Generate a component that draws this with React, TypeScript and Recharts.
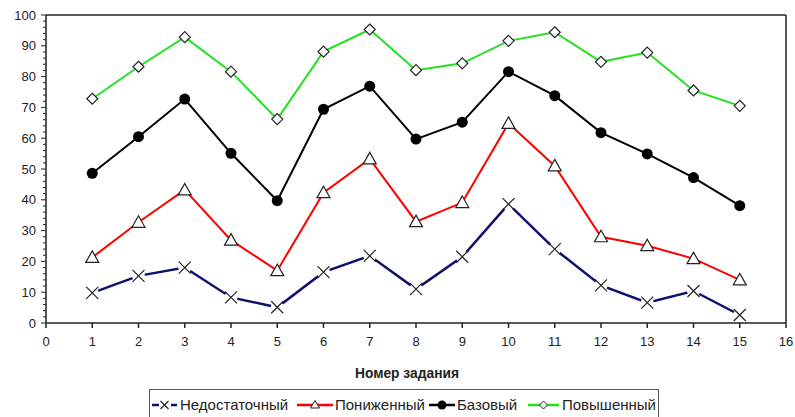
import { LineChart, Line, XAxis, YAxis, ReferenceLine } from "recharts";

// task numbers 1..15
const tasks = [1, 2, 3, 4, 5, 6, 7, 8, 9, 10, 11, 12, 13, 14, 15];

const insufficient = [9.8, 15.3, 18, 8.3, 5.1, 16.5, 21.8, 11, 21.5, 38.6, 24, 12.2, 6.6, 10.4, 2.6];
const lowered = [21.3, 32.7, 43.2, 26.9, 17, 42.3, 53.3, 32.9, 39.1, 64.8, 51, 28, 25.1, 20.9, 14];
const basic = [48.6, 60.5, 72.7, 55.1, 39.7, 69.4, 76.9, 59.7, 65.2, 81.6, 73.8, 61.8, 54.9, 47.2, 38.1];
const advanced = [72.8, 83.2, 92.8, 81.6, 66.2, 88.1, 95.3, 82.1, 84.3, 91.6, 94.4, 84.8, 87.8, 75.5, 70.5];

const xTicks = [0, 1, 2, 3, 4, 5, 6, 7, 8, 9, 10, 11, 12, 13, 14, 15, 16];
const yMajor = [0, 10, 20, 30, 40, 50, 60, 70, 80, 90, 100];
const yTicks = [
  0, 2, 4, 6, 8, 10, 12, 14, 16, 18, 20, 22, 24, 26, 28, 30, 32, 34, 36, 38, 40, 42, 44, 46, 48, 50,
  52, 54, 56, 58, 60, 62, 64, 66, 68, 70, 72, 74, 76, 78, 80, 82, 84, 86, 88, 90, 92, 94, 96, 98, 100,
];

const seriesNames = ["Недостаточный", "Пониженный", "Базовый", "Повышенный"];
const axisTitle = "Номер задания";

const data = tasks.map((t, i) => ({
  task: t,
  insufficient: insufficient[i],
  lowered: lowered[i],
  basic: basic[i],
  advanced: advanced[i],
}));

const FONT = "'Liberation Sans', Arial, sans-serif";

const CrossDot = (p: any) => (
  <g>
    <circle cx={p.cx} cy={p.cy} r={6.5} fill="#fff" />
    <path d={`M${p.cx - 6},${p.cy - 6}L${p.cx + 6},${p.cy + 6}M${p.cx + 6},${p.cy - 6}L${p.cx - 6},${p.cy + 6}`} stroke="#222" strokeWidth={1.2} />
  </g>
);
const TriDot = (p: any) => (
  <path d={`M${p.cx},${p.cy - 6.5}L${p.cx + 6.5},${p.cy + 5}L${p.cx - 6.5},${p.cy + 5}Z`} fill="#fff" stroke="#222" strokeWidth={1.2} />
);
const CircleDot = (p: any) => <circle cx={p.cx} cy={p.cy} r={5.5} fill="#000" />;
const DiamondDot = (p: any) => (
  <path d={`M${p.cx},${p.cy - 5.5}L${p.cx + 5.5},${p.cy}L${p.cx},${p.cy + 5.5}L${p.cx - 5.5},${p.cy}Z`} fill="#fff" stroke="#222" strokeWidth={1.2} />
);

const YTick = ({ x, y, payload }: any) => {
  const major = yMajor.includes(payload.value);
  return (
    <g>
      <line x1={major ? x - 5 : x - 3} x2={x} y1={y} y2={y} stroke="#222" strokeWidth={1} />
      {major && (
        <text x={x - 10} y={y} dy="0.35em" textAnchor="end" fontSize={13} fill="#222" fontFamily={FONT}>
          {payload.value}
        </text>
      )}
    </g>
  );
};

// legend layout: sample start/end and text start (relative to page)
const legendItems = [
  { color: "#10106e", mark: "x", x0: 152, x1: 177, tx: 180 },
  { color: "#ff0000", mark: "tri", x0: 297, x1: 333, tx: 335 },
  { color: "#000000", mark: "dot", x0: 429, x1: 455, tx: 457 },
  { color: "#22e022", mark: "dia", x0: 528, x1: 559, tx: 562 },
];

const LegendBox = () => (
  <div
    style={{
      position: "absolute",
      left: 149,
      top: 389,
      width: 510,
      height: 34,
      border: "1.5px solid #555",
      boxSizing: "border-box",
      fontFamily: FONT,
      fontSize: 15,
      color: "#222",
    }}
  >
    {seriesNames.map((name, i) => {
      const s = legendItems[i];
      const w = s.x1 - s.x0;
      const c = w / 2;
      return (
        <div key={name}>
          <svg width={w} height={14} style={{ position: "absolute", left: s.x0 - 150, top: 8 }}>
            <line x1={0} x2={w} y1={7} y2={7} stroke={s.color} strokeWidth={2.5} strokeDasharray={s.mark === "x" ? "7 12 7" : undefined} />
            {s.mark === "x" && <path d={`M${c - 4},3L${c + 4},11M${c + 4},3L${c - 4},11`} stroke="#222" strokeWidth={1.1} />}
            {s.mark === "tri" && <path d={`M${c},2.5L${c + 4.5},10L${c - 4.5},10Z`} fill="#fff" stroke="#222" strokeWidth={1} />}
            {s.mark === "dot" && <circle cx={c} cy={7} r={4.5} fill="#000" />}
            {s.mark === "dia" && <path d={`M${c},3L${c + 4},7L${c},11L${c - 4},7Z`} fill="#fff" stroke="#222" strokeWidth={1} />}
          </svg>
          <span style={{ position: "absolute", left: s.tx - 150, top: 6, lineHeight: "18px", whiteSpace: "nowrap" }}>{name}</span>
        </div>
      );
    })}
  </div>
);

export default function App() {
  return (
    <div style={{ position: "absolute", left: 0, top: 0, width: 795, height: 417, background: "#fff", overflow: "hidden" }}>
      <LineChart width={795} height={417} data={data} margin={{ top: 15, right: 9, bottom: 64, left: 0 }}>
        <XAxis
          dataKey="task"
          type="number"
          domain={[0, 16]}
          ticks={xTicks}
          interval={0}
          height={30}
          stroke="#222"
          strokeWidth={1.5}
          tickSize={5}
          tickMargin={9}
          tick={{ fill: "#222", fontSize: 13, fontFamily: FONT }}
        />
        <YAxis
          type="number"
          domain={[0, 100]}
          ticks={yTicks}
          interval={0}
          width={46}
          stroke="#222"
          strokeWidth={1.5}
          tickSize={0}
          tickMargin={0}
          tickLine={false}
          tick={<YTick />}
        />
        <ReferenceLine y={100} stroke="#222" strokeWidth={1.5} />
        <ReferenceLine x={16} stroke="#222" strokeWidth={1.5} />
        <Line dataKey="insufficient" name={seriesNames[0]} stroke="#10106e" strokeWidth={2.5} dot={<CrossDot />} isAnimationActive={false} />
        <Line dataKey="lowered" name={seriesNames[1]} stroke="#ff0000" strokeWidth={2} dot={<TriDot />} isAnimationActive={false} />
        <Line dataKey="basic" name={seriesNames[2]} stroke="#000000" strokeWidth={2} dot={<CircleDot />} isAnimationActive={false} />
        <Line dataKey="advanced" name={seriesNames[3]} stroke="#22e022" strokeWidth={2} dot={<DiamondDot />} isAnimationActive={false} />
        <text x={407} y={373} dy="0.35em" textAnchor="middle" fontSize={13.8} fontWeight="bold" fill="#222" fontFamily={FONT}>
          {axisTitle}
        </text>
      </LineChart>
      <LegendBox />
    </div>
  );
}
